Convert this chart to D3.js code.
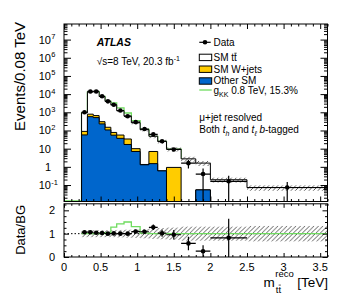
<!DOCTYPE html>
<html>
<head>
<meta charset="utf-8">
<script src="https://cdn.jsdelivr.net/npm/d3@7"></script>
<style>
  body { margin: 0; background: #fff; }
  svg text { font-family: "Liberation Sans", Arial, Helvetica, sans-serif; fill: #000; }
</style>
</head>
<body>
<div id="chart"></div>
<script>
// m_tt reco spectrum, mu+jets resolved, both b-tagged.
// Bin contents are events / 0.08 TeV.
const BIN_EDGES = [0.24, 0.32, 0.40, 0.48, 0.56, 0.64, 0.72, 0.82, 0.92, 1.04, 1.16, 1.28, 1.40, 1.60, 1.80, 2.00, 2.50, 3.60];
const DATA      = [1000, 14000, 14000, 7600, 4000, 2600, 1250, 610, 290, 120, 61, 25.5, 9.0, 1.6, 0.4, 0.16, 0.073];
const DATA_ERR  = [32, 118, 118, 87, 63, 51, 32, 22, 14, 8.3, 5.7, 3.8, 1.9, 0.8, 0.4, 0.16, 0.073];
const OTHER_SM  = [57, 575, 510, 230, 107, 55, 37, 17, 7, 1.3, 1.5, 0.6, 0, 0, 0.054, 0, 0];
const WJETS     = [32, 215, 150, 75, 43, 23, 19, 17, 3, 0.05, 5.5, 0, 0.93, 0, 0, 0, 0];
const TTBAR     = [851, 12410, 12840, 7095, 3850, 2492, 1194, 576, 256, 109.6, 41, 24.4, 8.5, 2.75, 1.55, 0.195, 0.072];
// g_KK signal added on top of SM (null = no signal histogram there)
const GKK       = [0, 0, 0, 0, 160, 720, 520, 305, 80, 3, 0, 0, 0, null, null, null, null];
// relative background uncertainty (hatched band)
const SYST      = [0.15, 0.15, 0.15, 0.15, 0.15, 0.15, 0.16, 0.17, 0.18, 0.2, 0.22, 0.24, 0.26, 0.3, 0.3, 0.3, 0.33];
const SHOW_RATIO = [1, 1, 1, 1, 1, 1, 1, 1, 1, 1, 1, 1, 1, 1, 1, 1, 0];

const X_TICKS = [0, 0.5, 1, 1.5, 2, 2.5, 3, 3.5];
const Y_DECADES = [-1, 0, 1, 2, 3, 4, 5, 6, 7];
const RATIO_TICKS = [0, 1, 2];

const COL_W = "#ffcc00";
const COL_OTHER = "#0066cc";
const COL_SIG = "#6fdc5f";

const W = 357, H = 302;
const left = 64, right = 327.5;
const mainTop = 24, mainBot = 201.5;
const ratTop = 203.8, ratBot = 257;
const yMin = 0.0124, yMax = 7.2e7;

const svg = d3.select("#chart").append("svg")
  .attr("width", W).attr("height", H);

const x = d3.scaleLinear().domain([0, 3.6]).range([left, right]);
const y = d3.scaleLog().domain([yMin, yMax]).range([mainBot, mainTop]);
const yr = d3.scaleLinear().domain([0, 2.28]).range([ratBot, ratTop]);

const nb = DATA.length;
const SM = d3.range(nb).map(i => OTHER_SM[i] + WJETS[i] + TTBAR[i]);

const defs = svg.append("defs");
defs.append("clipPath").attr("id", "clipMain").append("rect")
  .attr("x", left).attr("y", mainTop).attr("width", right - left).attr("height", mainBot - mainTop);
defs.append("clipPath").attr("id", "clipRat").append("rect")
  .attr("x", left).attr("y", ratTop).attr("width", right - left).attr("height", ratBot - ratTop);
defs.append("pattern").attr("id", "hatch")
  .attr("patternUnits", "userSpaceOnUse").attr("width", 4.5).attr("height", 4.5)
  .append("path")
  .attr("d", "M-1,1 L1,-1 M0,4.5 L4.5,0 M3.5,5.5 L5.5,3.5")
  .attr("stroke", "#333").attr("stroke-width", 0.8);

const line = d3.line();

// step outline of a histogram, closed down to the floor
function stepPoints(vals, ys, floorY, clampMin) {
  const pts = [[x(BIN_EDGES[0]), floorY]];
  vals.forEach((v, i) => {
    const yy = (v == null || v <= clampMin) ? floorY : ys(v);
    pts.push([x(BIN_EDGES[i]), yy], [x(BIN_EDGES[i + 1]), yy]);
  });
  pts.push([x(BIN_EDGES[nb]), floorY]);
  return pts;
}

// ---------------- main panel ----------------
const gMain = svg.append("g").attr("clip-path", "url(#clipMain)");

// signal line (SM + g_KK), sits on the floor where there is no signal histogram
const sigVals = d3.range(nb).map(i => GKK[i] == null ? null : SM[i] + GKK[i]);
const sigPts = [[x(0), mainBot - 0.6]].concat(stepPoints(sigVals, y, mainBot - 0.6, 0)).concat([[x(3.6), mainBot - 0.6]]);
gMain.append("path")
  .attr("d", line(sigPts))
  .attr("fill", "none").attr("stroke", COL_SIG).attr("stroke-width", 1.3);

// stacked histograms: total (ttbar on top), W+jets, other SM
const cumW = d3.range(nb).map(i => OTHER_SM[i] + WJETS[i]);
[[SM, "#fff"], [cumW, COL_W], [OTHER_SM, COL_OTHER]].forEach(([vals, col]) => {
  gMain.append("path")
    .attr("d", line(stepPoints(vals, y, mainBot + 2, yMin)) + "Z")
    .attr("fill", col).attr("stroke", "#000").attr("stroke-width", 1);
});

// uncertainty band
gMain.selectAll(".band").data(d3.range(nb)).enter().append("rect")
  .attr("x", i => x(BIN_EDGES[i]))
  .attr("width", i => x(BIN_EDGES[i + 1]) - x(BIN_EDGES[i]))
  .attr("y", i => y(SM[i] * (1 + SYST[i])))
  .attr("height", i => y(SM[i] * (1 - SYST[i])) - y(SM[i] * (1 + SYST[i])))
  .attr("fill", "url(#hatch)");

// data
const gData = gMain.append("g");
d3.range(nb).forEach(i => {
  const xc = (x(BIN_EDGES[i]) + x(BIN_EDGES[i + 1])) / 2;
  const lo = DATA[i] - DATA_ERR[i];
  gData.append("line")
    .attr("x1", x(BIN_EDGES[i])).attr("x2", x(BIN_EDGES[i + 1]))
    .attr("y1", y(DATA[i])).attr("y2", y(DATA[i]))
    .attr("stroke", "#000").attr("stroke-width", 1.2);
  gData.append("line")
    .attr("x1", xc).attr("x2", xc)
    .attr("y1", lo > yMin ? y(lo) : mainBot + 2).attr("y2", y(DATA[i] + DATA_ERR[i]))
    .attr("stroke", "#000").attr("stroke-width", 1.2);
  gData.append("circle").attr("cx", xc).attr("cy", y(DATA[i])).attr("r", 2.3).attr("fill", "#000");
});

// ---------------- ratio panel ----------------
const gRat = svg.append("g").attr("clip-path", "url(#clipRat)");

gRat.selectAll(".rband").data(d3.range(nb)).enter().append("rect")
  .attr("x", i => x(BIN_EDGES[i]))
  .attr("width", i => x(BIN_EDGES[i + 1]) - x(BIN_EDGES[i]))
  .attr("y", i => yr(1 + SYST[i]))
  .attr("height", i => yr(1 - SYST[i]) - yr(1 + SYST[i]))
  .attr("fill", "url(#hatch)");

gRat.append("line")
  .attr("x1", x(0)).attr("x2", x(3.6)).attr("y1", yr(1)).attr("y2", yr(1))
  .attr("stroke", "#000").attr("stroke-width", 1).attr("stroke-dasharray", "1.5,2");

const sigRatio = d3.range(nb).map(i => GKK[i] == null ? 1 : (SM[i] + GKK[i]) / SM[i]);
const srPts = [];
sigRatio.forEach((r, i) => srPts.push([x(BIN_EDGES[i]), yr(r)], [x(BIN_EDGES[i + 1]), yr(r)]));
gRat.append("path").attr("d", line(srPts))
  .attr("fill", "none").attr("stroke", COL_SIG).attr("stroke-width", 1.3);

const gRD = gRat.append("g");
d3.range(nb).filter(i => SHOW_RATIO[i]).forEach(i => {
  const r = DATA[i] / SM[i];
  const e = DATA_ERR[i] / SM[i];
  const xc = (x(BIN_EDGES[i]) + x(BIN_EDGES[i + 1])) / 2;
  gRD.append("line")
    .attr("x1", x(BIN_EDGES[i])).attr("x2", x(BIN_EDGES[i + 1]))
    .attr("y1", yr(r)).attr("y2", yr(r))
    .attr("stroke", "#000").attr("stroke-width", 1.2);
  gRD.append("line")
    .attr("x1", xc).attr("x2", xc)
    .attr("y1", yr(Math.max(r - e, 0))).attr("y2", yr(r + e))
    .attr("stroke", "#000").attr("stroke-width", 1.2);
  gRD.append("circle").attr("cx", xc).attr("cy", yr(r)).attr("r", 2.3).attr("fill", "#000");
});

// ---------------- frames and ticks ----------------
function frame(y0, y1) {
  svg.append("rect")
    .attr("x", left).attr("y", y0).attr("width", right - left).attr("height", y1 - y0)
    .attr("fill", "none").attr("stroke", "#000").attr("stroke-width", 1);
}
frame(mainTop, mainBot);
frame(ratTop, ratBot);

function ticks(g, axis) {
  g.call(axis);
  g.select(".domain").remove();
  g.selectAll("text").remove();
  g.selectAll("line").attr("stroke", "#000");
}

const xMinor = d3.range(0, 3.61, 0.1).filter(v => Math.abs(v * 2 - Math.round(v * 2)) > 1e-6);
[[mainBot, d3.axisBottom, 5, 2.5], [mainTop, d3.axisTop, 5, 2.5],
 [ratBot, d3.axisBottom, 4, 2], [ratTop, d3.axisTop, 4, 2]].forEach(([yy, ax, big, small]) => {
  ticks(svg.append("g").attr("transform", `translate(0,${yy})`), ax(x).tickValues(X_TICKS).tickSize(-big));
  ticks(svg.append("g").attr("transform", `translate(0,${yy})`), ax(x).tickValues(xMinor).tickSize(-small));
});

const yMajor = Y_DECADES.map(k => Math.pow(10, k));
const yMinorVals = [];
for (let k = -2; k <= 7; k++) for (let m = 2; m <= 9; m++) {
  const v = m * Math.pow(10, k);
  if (v > yMin && v < yMax) yMinorVals.push(v);
}
[[left, d3.axisLeft], [right, d3.axisRight]].forEach(([xx, ax]) => {
  ticks(svg.append("g").attr("transform", `translate(${xx},0)`), ax(y).tickValues(yMajor).tickSize(-7));
  ticks(svg.append("g").attr("transform", `translate(${xx},0)`), ax(y).tickValues(yMinorVals).tickSize(-3.5));
  ticks(svg.append("g").attr("transform", `translate(${xx},0)`), ax(yr).tickValues(RATIO_TICKS).tickSize(-5));
  ticks(svg.append("g").attr("transform", `translate(${xx},0)`),
    ax(yr).tickValues([0.25, 0.5, 0.75, 1.25, 1.5, 1.75, 2.25]).tickSize(-2.5));
});

// ---------------- tick labels ----------------
X_TICKS.forEach(v => {
  svg.append("text").attr("x", x(v)).attr("y", 270.5)
    .attr("text-anchor", "middle").style("font-size", "11px").text(v);
});
RATIO_TICKS.forEach(v => {
  svg.append("text").attr("x", 55).attr("y", yr(v) + 4)
    .attr("text-anchor", "end").style("font-size", "11px").text(v);
});
Y_DECADES.forEach(k => {
  const yy = y(Math.pow(10, k)) + 4;
  const base = k === 0 ? "1" : "10";
  svg.append("text").attr("x", 51).attr("y", yy)
    .attr("text-anchor", "end").style("font-size", "11px").text(base);
  if (k !== 0 && k !== 1) {
    svg.append("text").attr("x", 51.3).attr("y", yy - 4.5)
      .style("font-size", "7.5px").text(k);
  }
});

// ---------------- axis titles ----------------
svg.append("text")
  .attr("transform", "translate(25,22) rotate(-90)")
  .attr("text-anchor", "end").style("font-size", "15px")
  .text("Events/0.08 TeV");
svg.append("text")
  .attr("transform", "translate(25,205) rotate(-90)")
  .attr("text-anchor", "end").style("font-size", "13px")
  .text("Data/BG");

// "tt" with a bar over the second t
function ttbar(g, x0, y0, size) {
  const t = g.append("text").attr("x", x0).attr("y", y0).style("font-size", size + "px").text("tt");
  const w = t.node().getComputedTextLength();
  g.append("line")
    .attr("x1", x0 + w / 2 + 0.3).attr("x2", x0 + w - 0.2)
    .attr("y1", y0 - size * 0.78).attr("y2", y0 - size * 0.78)
    .attr("stroke", "#000").attr("stroke-width", Math.max(0.6, size * 0.07));
  return w;
}

const gX = svg.append("g");
const mT = gX.append("text").attr("x", 0).attr("y", 0).style("font-size", "13.5px").text("m");
const mw = mT.node().getComputedTextLength();
const supT = gX.append("text").attr("x", mw + 0.5).attr("y", -9.6).style("font-size", "9.5px").text("reco");
const sw = supT.node().getComputedTextLength();
ttbar(gX, mw + 1, 6, 9.5);
const tev = gX.append("text").attr("x", mw + sw + 4).attr("y", 0).style("font-size", "13.5px").text("[TeV]");
const totalW = mw + sw + 4 + tev.node().getComputedTextLength();
gX.attr("transform", `translate(${328 - totalW},286.5)`);

// ---------------- labels ----------------
svg.append("text").attr("x", 96.7).attr("y", 45.5)
  .style("font-size", "10.5px").style("font-weight", "bold").style("font-style", "italic")
  .text("ATLAS");
const lumi = svg.append("text").attr("x", 96.7).attr("y", 64.5).style("font-size", "10px");
lumi.append("tspan").text("\u221As=8 TeV, 20.3 fb");
lumi.append("tspan").attr("dy", -4).style("font-size", "7px").text("-1");

// legend
const lx = 199.3, tx = 213.5;
const leg = svg.append("g");
leg.append("line").attr("x1", lx).attr("x2", 210.7).attr("y1", 42.3).attr("y2", 42.3)
  .attr("stroke", "#000").attr("stroke-width", 1.2);
leg.append("circle").attr("cx", 205).attr("cy", 42.3).attr("r", 2.3).attr("fill", "#000");
leg.append("text").attr("x", tx).attr("y", 46).style("font-size", "10px").text("Data");

[[54.2, "#fff"], [66, COL_W], [77.8, COL_OTHER]].forEach(([yy, col]) => {
  leg.append("rect").attr("x", lx).attr("y", yy).attr("width", 12.4).attr("height", 6.4)
    .attr("fill", col).attr("stroke", "#000").attr("stroke-width", 1);
});
const smT = leg.append("text").attr("x", tx).attr("y", 61).style("font-size", "10px").text("SM");
ttbar(leg, tx + smT.node().getComputedTextLength() + 2.8, 61, 10);
leg.append("text").attr("x", tx).attr("y", 72.8).style("font-size", "10px").text("SM W+jets");
leg.append("text").attr("x", tx).attr("y", 84.3).style("font-size", "10px").text("Other SM");

leg.append("line").attr("x1", lx).attr("x2", 211.7).attr("y1", 90).attr("y2", 90)
  .attr("stroke", COL_SIG).attr("stroke-width", 1.3);
const gk = leg.append("text").attr("x", tx).attr("y", 94.3).style("font-size", "10px");
gk.append("tspan").text("g");
gk.append("tspan").attr("dy", 3).style("font-size", "7px").text("KK");
gk.append("tspan").attr("dy", -3).text(" 0.8 TeV, 15.3%");

leg.append("text").attr("x", lx).attr("y", 121).style("font-size", "10px").text("\u03BC+jet resolved");
const both = leg.append("text").attr("x", lx).attr("y", 133).style("font-size", "10px");
both.append("tspan").text("Both ");
both.append("tspan").style("font-style", "italic").text("t");
both.append("tspan").attr("dy", 2.5).style("font-size", "7px").style("font-style", "italic").text("h");
both.append("tspan").attr("dy", -2.5).text(" and ");
both.append("tspan").style("font-style", "italic").text("t");
both.append("tspan").attr("dy", 2.5).style("font-size", "7px").style("font-style", "italic").text("\u2113");
both.append("tspan").attr("dy", -2.5).text(" ");
both.append("tspan").style("font-style", "italic").text("b");
both.append("tspan").text("-tagged");
</script>
</body>
</html>
